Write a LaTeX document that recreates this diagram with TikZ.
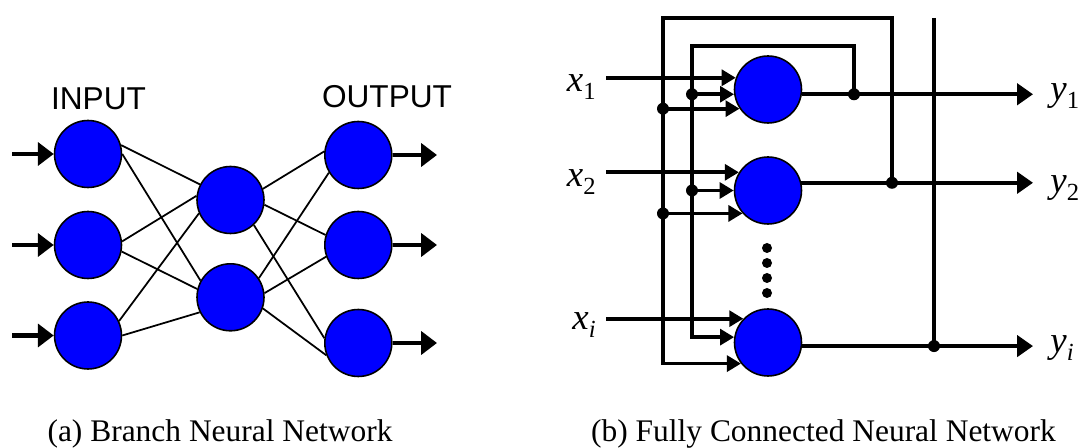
\documentclass[tikz,border=0pt]{standalone}
\usepackage{fontspec}
\setmainfont{Liberation Serif}
\setsansfont{Liberation Sans}
\usetikzlibrary{arrows.meta}

% variable with a lowered subscript, as in x_1 or y_i
\newcommand{\sublabel}[2]{\textit{#1}\raisebox{-4.5pt}{\fontsize{14}{14}\selectfont #2}}

\begin{document}
\begin{tikzpicture}[x=0.02cm, y=-0.02cm,
    neuron/.style={circle, draw=black, line width=0.9pt, fill=netBlue,
                   minimum size=1.34cm, inner sep=0pt},
    link/.style={line width=1pt},
    bigarrow/.style={line width=2.4pt, -{Triangle[length=9pt, width=13pt]}},
    wire/.style={line width=2.1pt},
    wirearrow/.style={wire, -{Triangle[length=8pt, width=9pt]}},
    outarrow/.style={wire, -{Triangle[length=9pt, width=12pt]}},
    junction/.style={circle, fill=black, inner sep=0pt, minimum size=0.24cm},
    layertext/.style={font=\sffamily\fontsize{18}{20}\selectfont, anchor=base},
    varlabel/.style={font=\fontsize{21}{24}\selectfont, inner ysep=0pt},
    caption/.style={font=\fontsize{17.9}{20}\selectfont, anchor=base}]
    \definecolor{netBlue}{RGB}{0,0,255}

    % Page size in pixels of the reference (y grows downwards)
    \useasboundingbox (0,0) rectangle (1092,448);

    % ---------------- (a) branch network ----------------
    \node[neuron] (in1)  at (88,154)      {};
    \node[neuron] (in2)  at (88,245)      {};
    \node[neuron] (in3)  at (88,335.5)    {};
    \node[neuron] (hid1) at (230.5,200)   {};
    \node[neuron] (hid2) at (230.5,297.3) {};
    \node[neuron] (out1) at (358.3,155)   {};
    \node[neuron] (out2) at (358.3,245)   {};
    \node[neuron] (out3) at (358.3,343)   {};

    % links leave and enter the circles at hand-picked angles
    \foreach \a/\sa/\b/\sb in {in1/15/hid1/153, in1/0/hid2/151,
                               in2/6/hid1/173, in2/-11/hid2/166,
                               in3/25/hid1/203, in3/0/hid2/206,
                               hid1/19/out1/174, hid1/-8/out2/163,
                               hid1/-47/out3/172, hid2/34/out1/211,
                               hid2/7/out2/200, hid2/-19/out3/201}
      \draw[link] (\a.\sa) -- (\b.\sb);

    % external inputs and outputs
    \coordinate (inStart) at (12,0);
    \coordinate (outStop) at (437,0);
    \foreach \k in {1,2,3} {
      \draw[bigarrow] (in\k.west -| inStart) -- (in\k.west);
      \draw[bigarrow] (out\k.east) -- (out\k.east -| outStop);
    }

    \node[layertext] (inputlbl)  at (98.5,110) {INPUT};
    \node[layertext] (outputlbl) at (387,108)  {OUTPUT};

    % ---------------- (b) fully connected network ----------------
    \node[neuron] (N1) at (768,89.5)  {};
    \node[neuron] (N2) at (768,190.5) {};
    \node[neuron] (Ni) at (768,342.5) {};

    % vertical ellipsis between the second and last neuron
    \foreach \k in {248,263,278,293}
      \fill (767,\k) circle (0.1cm);

    % corners of the two feedback loops and the third rail
    \coordinate (outerL)  at (663,18);
    \coordinate (outerR)  at (892,18);
    \coordinate (innerL)  at (692,46);
    \coordinate (innerR)  at (854,46);
    \coordinate (railTop) at (934,18);

    % input and output labels
    \node[varlabel, inner xsep=0.2cm, anchor=base east]  (lx1) at (606,91.7)  {\sublabel{x}{1}};
    \node[varlabel, inner xsep=0.2cm, anchor=base east]  (lx2) at (606,187)   {\sublabel{x}{2}};
    \node[varlabel, inner xsep=0.2cm, anchor=base east]  (lxi) at (606,330)   {\sublabel{x}{\textit{i}}};
    \node[varlabel, inner xsep=0.34cm, anchor=base west] (ly1) at (1033,101)  {\sublabel{y}{1}};
    \node[varlabel, inner xsep=0.34cm, anchor=base west] (ly2) at (1033,193)  {\sublabel{y}{2}};
    \node[varlabel, inner xsep=0.34cm, anchor=base west] (lyi) at (1033,353)  {\sublabel{y}{\textit{i}}};

    % inputs
    \draw[wirearrow] (lx1.east |- N1.160) -- (N1.160);
    \draw[wirearrow] (lx2.east |- N2.148) -- (N2.148);
    \draw[wirearrow] (lxi.east |- Ni.136) -- (Ni.136);

    % outputs
    \draw[outarrow] (N1.352) -- (N1.352 -| ly1.west);
    \draw[outarrow] (N2.13)  -- (N2.13 -| ly2.west);
    \draw[outarrow] (Ni.354) -- (Ni.354 -| lyi.west);

    % take-off points on the outputs
    \node[junction] (jy1) at (N1.352 -| innerR)  {};
    \node[junction] (jy2) at (N2.13 -| outerR)   {};
    \node[junction] (jyi) at (Ni.354 -| railTop) {};

    % feedback loops
    \draw[wirearrow] (jy1.center) -- (innerR) -- (innerL) |- (Ni.171);
    \draw[wirearrow] (jy2.center) -- (outerR) -- (outerL) |- (Ni.218);
    \draw[wire] (railTop) -- (jyi.center);

    % branches of the loops into the upper neurons
    \node[junction] (jin1)  at (N1.188 -| innerL) {};
    \node[junction] (jin2)  at (N2.180 -| innerL) {};
    \node[junction] (jout1) at (N1.214 -| outerL) {};
    \node[junction] (jout2) at (N2.222 -| outerL) {};
    \draw[wirearrow] (jin1.center)  -- (N1.188);
    \draw[wirearrow] (jin2.center)  -- (N2.180);
    \draw[wirearrow] (jout1.center) -- (N1.214);
    \draw[wirearrow] (jout2.center) -- (N2.222);

    % captions
    \node[caption] (capA) at (220,442)   {(a) Branch Neural Network};
    \node[caption] (capB) at (823.5,442) {(b) Fully Connected Neural Network};
\end{tikzpicture}
\end{document}
